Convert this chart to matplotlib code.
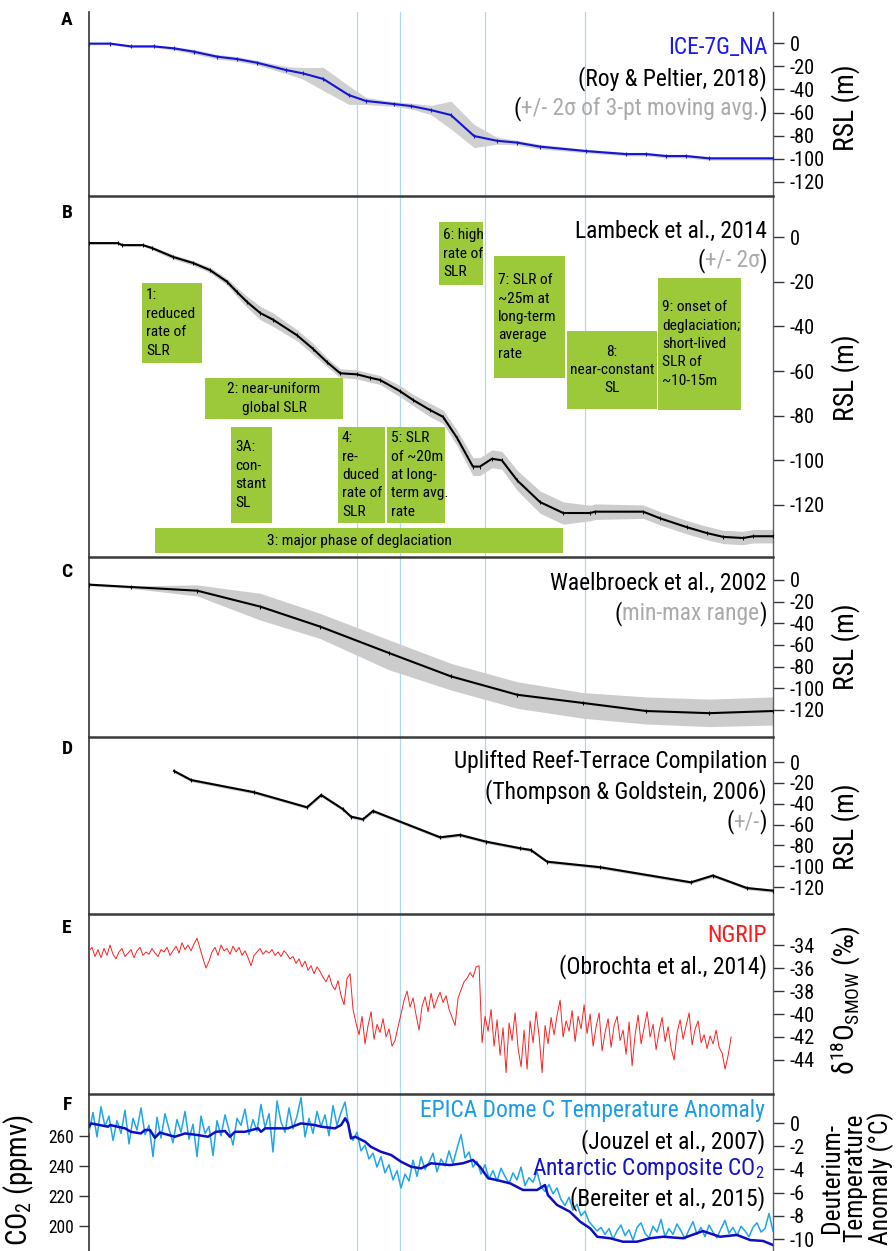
import matplotlib
matplotlib.use('Agg')
import matplotlib.pyplot as plt
from matplotlib import font_manager as fm
from matplotlib.patches import Rectangle
import numpy as np

plt.rcParams['axes.unicode_minus'] = False

# pick a narrow sans face if one is installed (the original lettering is condensed)
cond = {}
for f in fm.fontManager.ttflist:
    if f.stretch in ('condensed', 'semi-condensed') and f.style == 'normal':
        cond.setdefault(f.name, f.stretch)
FAM, STRETCH = 'Liberation Sans', 'normal'
for name in ['Liberation Sans Narrow', 'Roboto Condensed', 'Noto Sans Condensed', 'Noto Sans',
             'Open Sans Condensed', 'Open Sans', 'DejaVu Sans Condensed', 'DejaVu Sans', 'Roboto']:
    if name in cond:
        FAM, STRETCH = name, cond[name]
        break
plt.rcParams['font.family'] = [FAM, 'Liberation Sans', 'DejaVu Sans']
plt.rcParams['font.stretch'] = STRETCH
suffix = ':stretch=' + STRETCH
plt.rcParams['mathtext.fontset'] = 'custom'
plt.rcParams['mathtext.rm'] = FAM + suffix
plt.rcParams['mathtext.it'] = FAM + suffix + ':style=italic'
plt.rcParams['mathtext.bf'] = FAM + suffix + ':weight=bold'

# ---- data (age in ka) ----
# A: ICE-7G_NA
ice_t = [5.00, 5.51, 6.01, 6.57, 7.05, 7.53, 8.09, 8.57, 9.05, 9.75, 10.16, 10.65, 11.27, 11.68,
         12.36, 12.77, 13.25, 13.73, 14.29, 14.84, 15.33, 15.88, 16.99, 17.95, 18.44, 18.92,
         19.40, 19.96, 21.50]
ice_rsl = [-0.5, -0.5, -2.9, -2.9, -4.6, -7.5, -11.8, -13.8, -17.0, -23.3, -26.2, -31.0, -45.0, -50.0,
           -52.7, -54.4, -57.9, -62.2, -80.3, -84.4, -86.0, -89.5, -93.3, -95.9, -95.9, -97.6,
           -97.6, -99.6, -99.6]
ice_2s = [1.0, 1.0, 1.0, 1.0, 1.5, 2.0, 2.0, 2.0, 2.0, 3.0, 5.0, 10.0, 8.0, 3.0,
          2.0, 2.5, 4.0, 12.0, 10.0, 3.0, 2.0, 2.0, 1.5, 1.5, 1.5, 1.5,
          1.5, 1.5, 1.5]

# B: Lambeck et al. 2014
lam_t = [5.00, 5.70, 5.80, 6.30, 6.52, 7.03, 7.51, 7.92, 8.33, 8.57, 8.81, 9.13, 9.44, 10.02,
         10.40, 10.74, 11.06, 11.47, 11.78, 12.02, 12.50, 12.82, 13.23, 13.54, 13.88, 14.26,
         14.43, 14.72, 14.96, 15.33, 15.88, 16.44, 17.09, 17.21, 18.37, 18.78, 19.43, 19.91,
         20.30, 20.78, 21.02, 21.50]
lam_rsl = [-2.7, -2.7, -3.6, -3.6, -4.9, -8.9, -11.6, -14.8, -20.0, -24.6, -29.0, -34.0, -37.0, -44.0,
           -50.0, -56.0, -61.0, -61.5, -63.0, -64.0, -69.0, -73.0, -77.5, -80.5, -90.0, -102.8,
           -102.8, -99.3, -100.0, -109.0, -118.7, -123.6, -123.6, -123.0, -123.0, -126.0, -130.0, -132.6,
           -134.3, -134.8, -134.0, -134.0]
lam_2s = [0.5, 0.5, 0.5, 0.5, 0.8, 1.0, 1.0, 1.2, 1.5, 2.0,
          2.5, 3.0, 3.0, 2.5, 2.5, 2.0, 2.0, 2.0, 2.0, 2.0,
          2.5, 2.5, 3.0, 3.0, 3.5, 4.0, 4.0, 4.0, 4.0, 4.5,
          5.0, 5.0, 3.5, 3.5, 3.0, 3.0, 3.0, 3.0, 3.0, 3.0,
          3.0, 3.0]

# C: Waelbroeck et al. 2002
wae_t = [5.00, 6.01, 7.61, 9.13, 10.57, 12.24, 13.73, 15.33, 16.92, 18.44, 19.96, 21.50]
wae_rsl = [-4.3, -6.5, -9.9, -24.6, -43.0, -67.5, -89.0, -106.0, -113.6, -121.0, -123.0, -121.0]
wae_hi = [-3.1, -5.5, -4.6, -12.3, -30.8, -55.4, -77.0, -94.0, -104.0, -108.0, -110.0, -108.0]
wae_lo = [-5.5, -7.7, -14.8, -37.0, -54.0, -83.0, -101.6, -118.5, -127.7, -133.0, -135.4, -134.0]

# D: Thompson & Goldstein 2006
tg_t = [7.05, 7.46, 8.98, 10.26, 10.60, 11.13, 11.32, 11.61, 11.85, 13.47, 13.95, 14.58,
        15.40, 15.66, 16.05, 17.33, 19.52, 20.05, 20.87, 21.50]
tg_rsl = [-8.6, -17.3, -29.0, -43.5, -31.7, -45.4, -52.5, -55.0, -47.0, -72.3, -70.0, -76.5,
          -82.8, -84.5, -95.7, -101.0, -115.5, -109.0, -121.0, -123.5]

# E: NGRIP d18O, 5.0 - 20.49 ka
ngrip_d18o = [
    -34.5, -34.2, -35.0, -34.4, -35.1, -34.3, -34.9, -34.0, -34.8, -35.2,
    -34.6, -34.3, -35.0, -34.7, -34.4, -35.1, -34.5, -34.2, -34.9, -34.6,
    -34.8, -34.3, -34.7, -35.0, -34.4, -34.6, -34.2, -34.9, -34.5, -34.1,
    -34.7, -33.8, -34.4, -34.0, -34.5, -33.9, -33.4, -34.3, -35.2, -36.0,
    -35.4, -34.6, -34.2, -34.9, -34.0, -34.5, -34.3, -34.8, -34.1, -34.6,
    -34.2, -34.9, -34.5, -35.1, -35.8, -34.9, -34.6, -34.3, -34.8, -34.5,
    -34.7, -34.4, -34.9, -34.6, -35.0, -34.5, -34.8, -35.2,
    -35.0, -35.6, -35.2, -35.9, -35.4, -36.2, -35.8, -36.5, -35.9, -36.3,
    -36.8, -37.2, -36.6, -37.5, -37.9, -37.1, -38.4, -39.2, -36.9, -36.5,
    -39.6, -40.8, -41.8, -40.2, -42.6, -41.0, -39.8, -42.2, -40.9, -41.6,
    -40.4, -42.0, -41.3, -42.8, -42.3, -41.1,
    -40.0, -38.8, -38.0, -39.4, -38.6, -40.1, -41.4, -39.3, -38.5, -39.8,
    -38.2, -39.5, -38.7, -38.1, -39.0, -38.4, -39.6, -40.3, -41.0, -38.6,
    -37.9, -37.2, -36.9, -36.4, -36.8, -35.9, -35.8,
    -42.5,
    -40.2, -41.5, -39.6, -42.8, -40.5, -43.6, -41.2, -45.1, -40.8, -42.3,
    -39.9, -43.0, -44.6, -41.4, -44.8, -40.6, -42.5, -39.8, -41.9, -45.1,
    -41.0, -42.6, -40.3, -41.8, -40.1, -38.8, -42.0, -40.6, -41.5, -39.7,
    -42.4, -40.2, -41.3, -39.2, -41.7, -40.0, -42.8, -41.1, -39.9, -43.2,
    -41.6, -40.4, -42.9, -41.0, -40.2, -42.3, -41.4, -43.5, -40.7, -44.5,
    -41.8, -40.1, -42.6, -41.2, -39.8, -42.0, -40.9, -43.1, -41.5, -40.3,
    -42.4, -41.1, -43.0, -44.0, -41.6, -40.5, -42.2, -41.0, -39.9, -42.7,
    -41.3, -40.6, -42.5, -41.8, -43.0, -41.9, -42.6, -41.4, -42.9, -43.4,
    -44.8, -43.6, -42.0]
ngrip_t = np.linspace(5.0, 20.49, len(ngrip_d18o))

# F: EPICA Dome C temperature anomaly, 5.0 - 21.5 ka
epica_dT = [
    -0.8, 0.9, -1.2, 1.4, -0.3, 0.6, -1.5, 0.2, -0.9, 1.1,
    -1.8, 0.4, -0.6, 1.3, -1.0, -0.2, -2.9, 0.5, -1.3, 0.8,
    -0.5, -1.7, 0.3, -0.8, 1.0, -1.4, -0.1, -2.9, 0.6, -0.9,
    -0.3, -2.8, 0.2, -1.1, 0.7, -0.6, -1.9, 0.4, -0.2, 1.2,
    -1.0, 0.3, -0.7, 1.6, -0.4, 0.8, -2.5, 1.9, 0.1, -0.8,
    1.3, -0.5, 0.6, 2.2, -1.2, 0.4, -0.9, 1.0, -0.3, 0.7,
    -1.1, 1.5, -0.2, 0.9, 1.8, -0.4,
    -1.5, -0.8, -2.4, -1.9, -3.1, -2.6, -3.8, -2.9, -4.3, -3.6, -4.9, -4.1, -5.6, -4.4, -5.0,
    -3.2, -4.6, -2.9, -4.0, -3.4, -2.6, -4.2, -3.1, -3.7, -2.4, -3.5, -2.2, -1.0, -3.0, -2.5, -3.8, -3.3,
    -4.4, -3.6, -4.8, -4.1, -5.0, -3.9, -4.6, -5.2, -4.3, -4.9, -3.8, -5.4, -4.7, -5.1, -4.2, -5.5, -5.9, -5.3,
    -6.1, -5.6, -6.6, -7.1, -6.4, -7.5, -7.0, -8.0, -7.6, -8.5, -8.9, -9.3, -9.0,
    -9.6, -9.1, -10.0, -9.3, -8.8, -9.7, -9.2, -10.1, -9.0, -8.6, -9.5, -9.9, -8.9, -9.4, -8.3,
    -9.8, -9.1, -9.6, -8.7, -9.3, -10.0, -9.2, -8.5, -9.6, -9.0, -9.8, -8.8, -9.4, -9.9, -9.1,
    -8.4, -9.5, -9.0, -9.7, -8.9, -9.3, -9.8, -9.0, -8.6, -9.4, -9.1, -7.8, -9.3]
epica_t = np.linspace(5.0, 21.5, len(epica_dT))

# F: Antarctic composite CO2
co2_t = [5.00, 5.05, 5.46, 5.51, 5.87, 6.01, 6.25, 6.35, 6.47, 6.59, 6.71, 7.07, 7.32, 7.63,
         7.87, 8.06, 8.28, 8.40, 8.52, 8.76, 9.08, 9.15, 9.25, 9.80, 10.11, 10.45, 10.60, 10.93,
         11.08, 11.18, 11.25, 11.32, 11.42, 11.66, 11.80, 12.04, 12.29, 12.53, 12.77, 13.01, 13.25,
         13.71, 14.02, 14.26, 14.43, 14.63, 14.84, 15.16, 15.47, 15.81, 16.00, 16.07, 16.29, 16.60,
         16.85, 17.09, 17.26, 17.57, 17.88, 18.22, 18.53, 18.85, 19.33, 19.81, 20.22, 20.63, 20.95,
         21.26, 21.50]
co2_ppm = [265.9, 268.1, 265.9, 267.0, 264.8, 262.5, 261.4, 263.7, 263.7, 258.5, 262.0, 259.2, 261.4, 260.3,
           259.2, 262.5, 263.0, 259.2, 262.5, 262.5, 264.8, 262.5, 264.8, 264.8, 268.1, 267.0, 265.9, 264.8,
           267.0, 271.5, 268.1, 258.1, 259.2, 255.9, 252.5, 249.2, 247.0, 242.5, 239.2, 238.1, 241.5,
           240.3, 241.5, 243.7, 239.2, 231.5, 230.3, 228.1, 223.7, 223.7, 227.0, 220.3, 213.7, 209.2,
           202.5, 198.1, 192.5, 191.5, 189.2, 189.2, 191.5, 192.5, 191.5, 196.3, 192.5, 193.7, 190.3,
           189.7, 187.0]

# climate transitions marked across all panels
event_t = [11.47, 12.50, 14.55, 16.97]

rsl_ticks = [0, -20, -40, -60, -80, -100, -120]
d18o_ticks = [-34, -36, -38, -40, -42, -44]
dT_ticks = [0, -2, -4, -6, -8, -10]
co2_ticks = [200, 220, 240, 260]

# ---- layout (pixels of the 896x1251 image) ----
W, H = 896, 1251
X0, X1 = 89, 773
GREEN = '#9bc93a'
GRAY = '#aaaaaa'
VLINE = '#a8dbf2'

fig = plt.figure(figsize=(W / 100, H / 100), dpi=100)
rend = fig.canvas.get_renderer()


def textw(s, size, **kw):
    t = fig.text(0, 0, s, fontsize=size, **kw)
    bb = t.get_window_extent(renderer=rend)
    t.remove()
    return bb.width, bb.height


def fit(s, px, **kw):
    return 20.0 * px / textw(s, 20.0, **kw)[0]


def line_pitch(size):
    # baseline-to-baseline distance at linespacing 1.0
    return textw('Ag\nAg', size, linespacing=1.0)[1] - textw('Ag', size)[1]


# font sizes fitted to the widths measured on the reference
ANN = np.mean([fit('Lambeck et al., 2014', 193), fit('(Roy & Peltier, 2018)', 194),
               fit('Uplifted Reef-Terrace Compilation', 305)])
TICK = fit('-100', 35)
TICKL = fit('260', 26)
BOX = fit('deglaciation;', 78)
BOX_LS = 19.7 / line_pitch(BOX)
LAB = fit('RSL (m)', 87)

rows = [(12, 196, (-132.1, 26.8)), (196, 557, (-143.3, 18.4)), (557, 737, (-145.0, 21.2)),
        (737, 914, (-145.9, 24.0)), (914, 1094, (-46.96, -31.3)), (1094, 1251, (-11.03, 2.5))]
axes = []
for i, (top, bot, yl) in enumerate(rows):
    ax = fig.add_axes([X0 / W, 1 - bot / H, (X1 - X0) / W, (bot - top) / H])
    ax.set_xlim(5.0, 21.5)
    ax.set_ylim(*yl)
    ax.patch.set_alpha(0)
    ax.tick_params(axis='x', bottom=False, labelbottom=False)
    ax.spines['bottom'].set_visible(False)
    ax.spines['top'].set_visible(i > 0)
    ax.spines['top'].set_color('#3a3a3a')
    ax.spines['top'].set_linewidth(1.8)
    ax.spines['left'].set_color('#333333')
    ax.spines['left'].set_linewidth(1.2)
    ax.spines['right'].set_color('#556070')
    ax.spines['right'].set_linewidth(1.0)
    for t in event_t:
        ax.axvline(t, color=VLINE, lw=0.9, zorder=0)
    axes.append(ax)
axA, axB, axC, axD, axE, axF = axes

# A
lo = np.array(ice_rsl) - np.array(ice_2s)
hi = np.array(ice_rsl) + np.array(ice_2s)
axA.fill_between(ice_t, lo, hi, color='#d0d0d0', lw=0, zorder=1)
axA.plot(ice_t, ice_rsl, color='#1414d2', lw=1.5, marker='|', ms=3, mew=0.8, zorder=3)

# B
lo = np.array(lam_rsl) - np.array(lam_2s)
hi = np.array(lam_rsl) + np.array(lam_2s)
axB.fill_between(lam_t, lo, hi, color='#cccccc', lw=0, zorder=1)
axB.plot(lam_t, lam_rsl, color='black', lw=1.5, marker='|', ms=2.5, mew=0.7, zorder=4)

# C
axC.fill_between(wae_t, wae_lo, wae_hi, color='#cccccc', lw=0, zorder=1)
axC.plot(wae_t, wae_rsl, color='black', lw=1.5, marker='|', ms=3, mew=0.8, zorder=3)

# D
tg = np.array(tg_rsl)
axD.fill_between(tg_t, tg - 1.5, tg + 1.5, color='#c8c8c8', lw=0, zorder=1)
axD.plot(tg_t, tg_rsl, color='black', lw=1.5, marker='|', ms=3, mew=0.8, zorder=3)

# E
axE.plot(ngrip_t, ngrip_d18o, color='#ff1f1f', lw=0.7, zorder=3)

# F
axF.plot(epica_t, epica_dT, color='#1fa6ea', lw=1.1, zorder=3)
axC2 = axF.twinx()
axC2.set_ylim(183.0, 287.7)
for s in axC2.spines.values():
    s.set_visible(False)
axC2.plot(co2_t, co2_ppm, color='#0d0dc4', lw=1.8, zorder=4)
axC2.yaxis.tick_left()
axC2.set_yticks(co2_ticks)
axC2.tick_params(axis='y', direction='out', length=7, width=1, color='#333333', pad=4, labelsize=TICKL)

for ax, tk in zip(axes, [rsl_ticks] * 4 + [d18o_ticks, dT_ticks]):
    ax.yaxis.tick_right()
    ax.set_yticks(tk)
    ax.tick_params(axis='y', direction='out', length=8, width=1, color='#333333', pad=4, labelsize=TICK)

# green phase boxes in panel B
boxes = [
    (142, 283, 202, 363, '1:\nreduced\nrate of\nSLR', 'left'),
    (205, 378, 343, 419, '2: near-uniform\nglobal SLR', 'center'),
    (231, 427, 272, 523, '3A:\ncon-\nstant\nSL', 'left'),
    (338, 427, 385, 523, '4:\nre-\nduced\nrate of\nSLR', 'left'),
    (387, 427, 445, 523, '5: SLR\nof ~20m\nat long-\nterm avg.\nrate', 'left'),
    (155, 528, 563, 553, '3: major phase of deglaciation', 'center'),
    (439, 222, 483, 285, '6: high\nrate of\nSLR', 'left'),
    (494, 256, 565, 378, '7: SLR of\n~25m at\nlong-term\naverage\nrate', 'left'),
    (567, 331, 657, 409, '8:\nnear-constant\nSL', 'center'),
    (658, 278, 741, 410, '9: onset of\ndeglaciation;\nshort-lived\nSLR of\n~10-15m', 'left'),
]
for x0, y0, x1, y1, txt, al in boxes:
    axB.add_patch(Rectangle((x0 / W, 1 - y1 / H), (x1 - x0) / W, (y1 - y0) / H,
                            transform=fig.transFigure, facecolor=GREEN, edgecolor='none', zorder=5))
    tx = (x0 + 4) if al == 'left' else (x0 + x1) / 2
    axB.text(tx / W, 1 - (y0 + y1) / 2 / H, txt, transform=fig.transFigure, ha=al, va='center',
             multialignment=al, fontsize=BOX, linespacing=BOX_LS, zorder=6)


def rtext(px, base, parts, size=ANN):
    # right-aligned text made of coloured pieces
    x = px / W
    for s, c in reversed(parts):
        t = fig.text(x, 1 - base / H, s, color=c, fontsize=size, ha='right', va='baseline')
        x -= t.get_window_extent(renderer=rend).width / W


rtext(767, 54, [('ICE-7G_NA', '#1a1aee')])
rtext(767, 85, [('(Roy & Peltier, 2018)', 'black')])
rtext(767, 115, [('(', 'black'), ('+/- 2σ of 3-pt moving avg.', GRAY), (')', 'black')])
rtext(767, 238, [('Lambeck et al., 2014', 'black')])
rtext(767, 267, [('(', 'black'), ('+/- 2σ', GRAY), (')', 'black')])
rtext(767, 590, [('Waelbroeck et al., 2002', 'black')])
rtext(767, 620, [('(', 'black'), ('min-max range', GRAY), (')', 'black')])
rtext(767, 768, [('Uplifted Reef-Terrace Compilation', 'black')])
rtext(767, 798, [('(Thompson & Goldstein, 2006)', 'black')])
rtext(767, 828, [('(', 'black'), ('+/-', GRAY), (')', 'black')])
rtext(767, 942, [('NGRIP', '#ff1a1a')])
rtext(767, 973, [('(Obrochta et al., 2014)', 'black')])
rtext(765, 1117, [('EPICA Dome C Temperature Anomaly', '#1a9ce8')])
rtext(765, 1148, [('(Jouzel et al., 2007)', 'black')])
rtext(765, 1175, [('Antarctic Composite CO$_2$', '#1212c8')])
rtext(765, 1205, [('(Bereiter et al., 2015)', 'black')])

# panel letters
for lab, base in zip('ABCDEF', [25, 218, 577, 754, 933, 1110]):
    fig.text(67 / W, 1 - base / H, lab, fontsize=14, fontweight='bold', ha='center', va='baseline')

# axis titles
for cy in (108, 378, 647, 827):
    fig.text(846 / W, 1 - cy / H, 'RSL (m)', rotation=90, fontsize=LAB, ha='center', va='center')
d18o_lab = r'δ$^{18}$O$_{\mathrm{SMOW}}$ (‰)'
fig.text(846 / W, 1 - 1000 / H, d18o_lab, rotation=90, fontsize=fit(d18o_lab, 150),
         ha='center', va='center')
FLAB = fit('Temperature', 128)
fig.text(857 / W, 1 - 1178 / H, 'Deuterium-\nTemperature\nAnomaly (°C)', rotation=90, fontsize=FLAB,
         ha='center', va='center', linespacing=23.0 / line_pitch(FLAB))
co2_lab = 'CO$_2$ (ppmv)'
fig.text(19 / W, 1 - 1180 / H, co2_lab, rotation=90, fontsize=fit(co2_lab, 132), ha='center', va='center')

fig.savefig('out.png', dpi=100)
